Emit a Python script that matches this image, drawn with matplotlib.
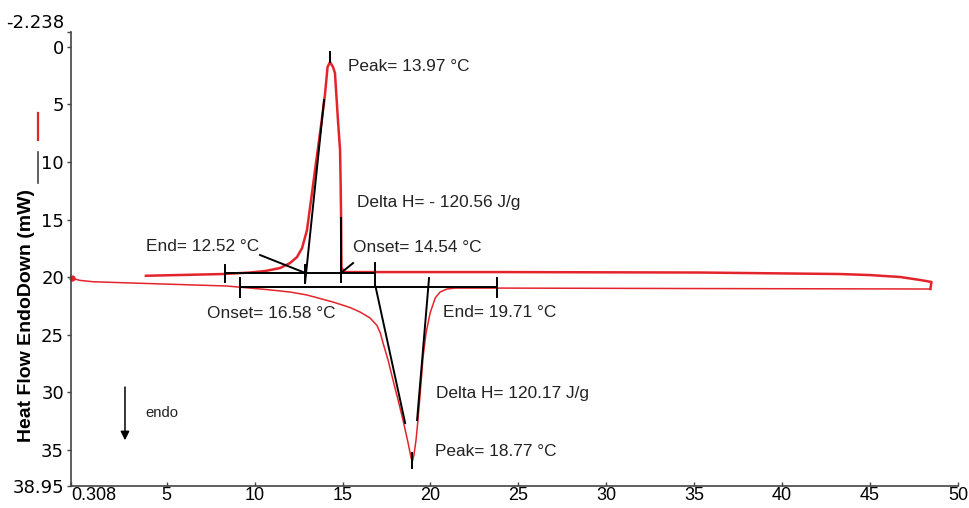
import matplotlib
matplotlib.use("Agg")
import matplotlib.pyplot as plt
from matplotlib.transforms import ScaledTranslation

plt.rcParams["font.family"] = ["Liberation Sans", "DejaVu Sans"]

# heating scan (lower trace, endotherm pointing down)
heat_x = [-0.40, 0.07, 0.81, 3.65, 8.41, 10.71, 12.01, 12.98, 14.46, 15.43, 16.0,
          16.57, 16.96, 17.15, 17.3, 17.59, 17.87, 18.16, 18.44, 18.73, 18.9, 18.98,
          19.06, 19.18, 19.29, 19.41, 19.58, 19.75, 19.98, 20.27, 20.55, 20.94,
          21.4, 23.96, 35.33, 48.43]
heat_y = [20.1, 20.28, 20.4, 20.54, 20.77, 21.08, 21.29, 21.55, 22.16, 22.64, 23.03,
          23.55, 24.2, 24.85, 25.7, 27.2, 28.93, 30.67, 32.41, 34.4, 35.7, 35.96,
          35.44, 34.14, 32.41, 30.24, 26.94, 24.86, 23.12, 21.81, 21.29, 21.03,
          20.95, 20.95, 20.99, 21.03]

# cooling scan (upper trace, exotherm pointing up), from 48 °C back down
cool_x = [48.43, 48.49, 47.86, 46.72, 45.0, 43.3, 35.33, 23.96, 15.14, 14.94, 14.92,
          14.89, 14.86, 14.74, 14.57, 14.46, 14.29, 14.15, 14.0, 13.82, 13.49,
          13.21, 12.98, 12.7, 12.41, 12.01, 11.45, 10.6, 9.74, 8.2, 3.82]
cool_y = [21.03, 20.42, 20.25, 19.99, 19.82, 19.73, 19.6, 19.56, 19.56, 19.21, 14.87,
          11.57, 8.97, 6.36, 2.28, 1.76, 1.33, 1.76, 4.19, 6.36, 10.1,
          13.31, 15.91, 17.48, 18.26, 18.78, 19.21, 19.47, 19.6, 19.73, 19.88]

# axis ranges and tick labels
x_lo, x_hi = -0.44, 50
y_lo, y_hi = 38.13, -1.28
x_ticks = [x_lo, 5, 10, 15, 20, 25, 30, 35, 40, 45, 50]
x_labels = ["0.308", "5", "10", "15", "20", "25", "30", "35", "40", "45", "50"]
y_ticks = [y_hi, 0, 5, 10, 15, 20, 25, 30, 35, y_lo]
y_labels = ["-2.238", "0", "5", "10", "15", "20", "25", "30", "35", "38.95"]

# analysis construction lines (x pairs, y pairs)
constr = [
    ([8.32, 16.86], [19.67, 19.67]),      # cooling baseline
    ([8.32, 8.32], [18.95, 20.43]),
    ([12.87, 12.87], [18.95, 20.43]),
    ([16.86, 16.86], [18.8, 20.83]),
    ([14.92, 14.92], [14.87, 20.43]),
    ([13.95, 12.87], [4.63, 20.51]),      # left tangent, exotherm
    ([10.31, 12.76], [18.08, 19.56]),     # End leader
    ([15.6, 14.97], [18.78, 19.56]),      # Onset leader
    ([14.29, 14.29], [0.46, 1.33]),       # peak mark
    ([9.17, 23.8], [20.83, 20.83]),       # heating baseline
    ([9.17, 9.17], [20.08, 21.73]),
    ([23.8, 23.8], [20.08, 21.73]),
    ([16.88, 18.56], [20.83, 32.66]),     # left tangent, endotherm
    ([19.92, 19.24], [20.08, 32.41]),     # right tangent, endotherm
    ([18.95, 18.95], [35.27, 36.57]),     # peak mark
]

labels = [
    (15.31, 1.68, "Peak= 13.97 °C"),
    (15.81, 13.48, "Delta H= - 120.56 J/g"),
    (3.82, 17.36, "End= 12.52 °C"),
    (15.58, 17.47, "Onset= 14.54 °C"),
    (7.28, 23.12, "Onset= 16.58 °C"),
    (20.72, 23.09, "End= 19.71 °C"),
    (20.32, 30.06, "Delta H= 120.17 J/g"),
    (20.26, 35.16, "Peak= 18.77 °C"),
]

red = "#e3242b"

fig = plt.figure(figsize=(9.69, 5.08), dpi=100)
ax = fig.add_axes([71 / 969, 1 - 486 / 508, 887 / 969, 454 / 508])

ax.plot(heat_x, heat_y, color=red, lw=1.1, solid_joinstyle="round")
ax.plot(cool_x, cool_y, color=red, lw=1.8, solid_joinstyle="round")
ax.plot(heat_x[0], heat_y[0], "o", color=red, ms=3.5, clip_on=False)

for xs, ys in constr:
    ax.plot(xs, ys, color="black", lw=1.4)

for x, y, s in labels:
    ax.text(x, y, s, fontsize=12.4, ha="left", va="center", color="#222222")

ax.annotate("", xy=(2.63, 34.4), xytext=(2.63, 29.3),
            arrowprops=dict(arrowstyle="-|>", color="black", lw=1.1, mutation_scale=13))
ax.text(3.77, 31.8, "endo", fontsize=10.7, ha="left", va="center", color="#222222")

ax.set_xlim(x_lo, x_hi)
ax.set_ylim(y_lo, y_hi)
ax.set_xticks(x_ticks)
ax.set_xticklabels(x_labels, fontsize=13)
ax.set_yticks(y_ticks)
ax.set_yticklabels(y_labels, fontsize=13, family="DejaVu Sans")
first_x = ax.get_xticklabels()[0]
first_x.set_ha("left")
first_x.set_transform(first_x.get_transform() + ScaledTranslation(-8 / 100, 0, fig.dpi_scale_trans))
ax.get_yticklabels()[0].set_va("bottom")

for side in ["top", "right"]:
    ax.spines[side].set_visible(False)
for side in ["left", "bottom"]:
    ax.spines[side].set_color("#444444")
    ax.spines[side].set_linewidth(1.2)
ax.tick_params(axis="x", direction="in", length=3, width=1, color="#444444", pad=1)
ax.tick_params(axis="y", direction="out", length=3, width=1, color="#444444", pad=2)

ax.set_ylabel("Heat Flow EndoDown (mW)", fontsize=14, fontweight="bold")
ax.yaxis.set_label_coords(-0.041, (488 - 318) / 454)

# colour key drawn beside the axis title
ax.plot([-0.0372, -0.0372], [(486 - 113) / 454, (486 - 140) / 454], color=red, lw=1.6,
        transform=ax.transAxes, clip_on=False)
ax.plot([-0.0372, -0.0372], [(486 - 152) / 454, (486 - 183) / 454], color="#444444", lw=1.2,
        transform=ax.transAxes, clip_on=False)

fig.savefig("out.png", dpi=100)
